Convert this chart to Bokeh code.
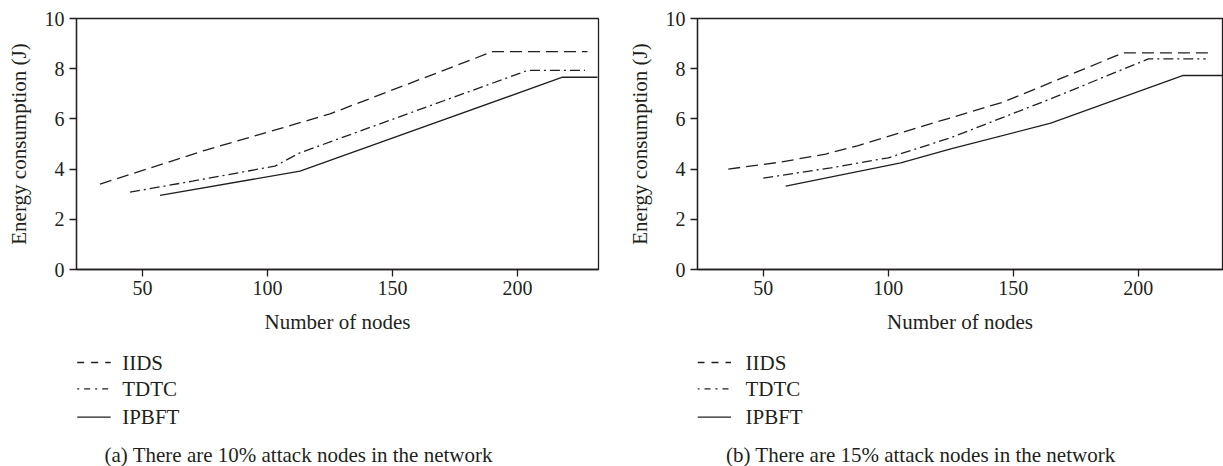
from bokeh.plotting import figure
from bokeh.models import Range1d, FixedTicker
from bokeh.layouts import row, column
from bokeh.core.properties import value
from bokeh.embed import file_html
from bokeh.resources import INLINE

# ---------------- data ----------------
series_names = ["IIDS", "TDTC", "IPBFT"]

# (a) 10% attack nodes
a_iids_x = [33, 75, 100, 125, 190, 228]
a_iids_y = [3.4, 4.75, 5.47, 6.2, 8.68, 8.68]
a_tdtc_x = [45, 70, 103, 113, 204, 227]
a_tdtc_y = [3.08, 3.52, 4.12, 4.65, 7.93, 7.93]
a_ipbft_x = [57, 113, 218, 232]
a_ipbft_y = [2.95, 3.92, 7.66, 7.66]

# (b) 15% attack nodes
b_iids_x = [36, 57, 75, 88, 100, 146, 194, 230]
b_iids_y = [4.0, 4.28, 4.6, 4.94, 5.3, 6.67, 8.63, 8.63]
b_tdtc_x = [50, 77, 100, 125, 165, 204, 227]
b_tdtc_y = [3.64, 4.05, 4.45, 5.25, 6.8, 8.39, 8.39]
b_ipbft_x = [59, 105, 125, 165, 218, 233.5]
b_ipbft_y = [3.32, 4.25, 4.81, 5.83, 7.73, 7.73]

x_ticks = [50, 100, 150, 200]
y_ticks = [0, 2, 4, 6, 8, 10]
x_label = "Number of nodes"
y_label = "Energy consumption (J)"
captions = ["(a) There are 10% attack nodes in the network",
            "(b) There are 15% attack nodes in the network"]

# ---------------- style ----------------
INK = "#231f20"
FONT = "Liberation Serif"
plot_dash = {"IIDS": "12 6", "TDTC": "10 4 2 4", "IPBFT": "solid"}
legend_dash = {"IIDS": "7 7", "TDTC": "2 5 6 5", "IPBFT": "solid"}


def make_plot(fw, xr, border_left, border_right, xs, ys):
    p = figure(frame_width=fw, frame_height=251,
               x_range=Range1d(*xr), y_range=Range1d(0, 10),
               min_border_left=border_left, min_border_right=border_right,
               min_border_top=18, min_border_bottom=79,
               output_backend="svg", toolbar_location=None)
    p.xgrid.visible = False
    p.ygrid.visible = False
    p.outline_line_color = INK
    p.outline_line_width = 1.3
    p.background_fill_color = "white"
    p.border_fill_color = "white"
    for ax in (p.xaxis[0], p.yaxis[0]):
        ax.axis_line_color = INK
        ax.axis_line_width = 1.3
        ax.major_tick_line_color = INK
        ax.major_tick_line_width = 1.3
        ax.major_tick_in = 0
        ax.major_tick_out = 7
        ax.minor_tick_line_color = None
        ax.major_label_text_font = FONT
        ax.major_label_text_font_size = "20px"
        ax.major_label_text_color = INK
        ax.axis_label_text_font = FONT
        ax.axis_label_text_font_size = "21px"
        ax.axis_label_text_font_style = "normal"
        ax.axis_label_text_color = INK
    p.xaxis[0].major_label_standoff = 4
    p.yaxis[0].major_label_standoff = 5
    p.xaxis[0].ticker = FixedTicker(ticks=x_ticks)
    p.yaxis[0].ticker = FixedTicker(ticks=y_ticks)
    p.xaxis[0].axis_label = x_label
    p.yaxis[0].axis_label = y_label
    p.xaxis[0].axis_label_standoff = 12
    p.yaxis[0].axis_label_standoff = 11
    for name, x, y in zip(series_names, xs, ys):
        p.line(x, y, line_color=INK, line_width=1.3, line_dash=plot_dash[name])
    return p


def make_legend(fw, sample_x0, text_x, caption_x, caption):
    # x positions are in pixels measured from the plot frame's left edge
    h = 118
    q = figure(frame_width=fw, frame_height=h, x_range=Range1d(0, fw),
               y_range=Range1d(h, 0), min_border=0,
               x_axis_location=None, y_axis_location=None,
               output_backend="svg", toolbar_location=None)
    q.xgrid.visible = False
    q.ygrid.visible = False
    q.outline_line_color = None
    q.background_fill_color = "white"
    q.border_fill_color = "white"
    line_y = [14, 40.3, 68.7]
    base_y = [14, 40.3, 68.7]
    for name, ly in zip(series_names, line_y):
        q.line([sample_x0, sample_x0 + 33.5], [ly, ly], line_color=INK,
               line_width=1.3, line_dash=legend_dash[name])
    q.text(x=[text_x] * 3, y=base_y, text=series_names,
           text_font=value(FONT), text_font_size=value("21px"),
           text_color=INK, text_baseline=value("alphabetic"))
    q.text(x=[caption_x], y=[106.5], text=[caption],
           text_font=value(FONT), text_font_size=value("21px"),
           text_color=INK, text_baseline=value("alphabetic"))
    return q


p1 = make_plot(522, (23.6, 232.4), 76, 12, [a_iids_x, a_tdtc_x, a_ipbft_x],
               [a_iids_y, a_tdtc_y, a_ipbft_y])
p2 = make_plot(525, (23.7, 233.7), 87, 1, [b_iids_x, b_tdtc_x, b_ipbft_x],
               [b_iids_y, b_tdtc_y, b_ipbft_y])
l1 = make_legend(522, 0.7, 45.7, 28.0, captions[0])
l2 = make_legend(525, 0.0, 48.0, 28.5, captions[1])

layout = row(column(p1, l1), column(p2, l2))
open("out.html", "w").write(file_html(layout, INLINE))
